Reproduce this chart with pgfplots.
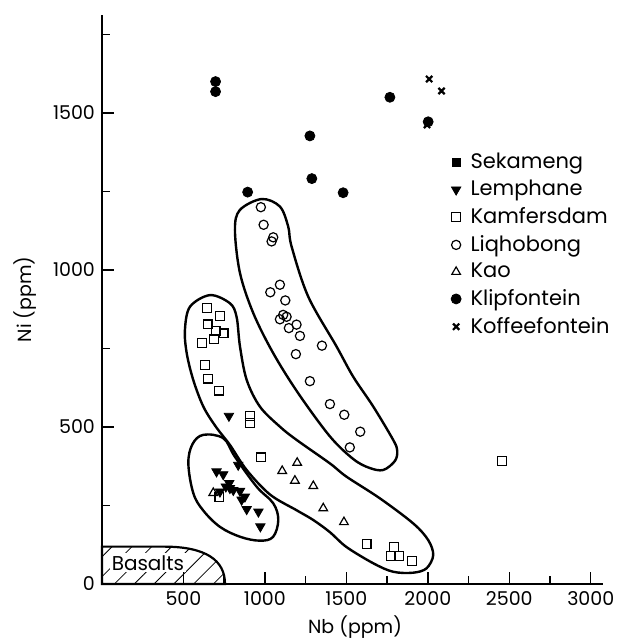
\documentclass[border=0pt]{standalone}
\usepackage{pgfplots}
\pgfplotsset{compat=1.18}
\usepackage{fontspec}
\setmainfont{Poppins}
\usetikzlibrary{patterns.meta}

\begin{document}
\begin{tikzpicture}[x=1pt,y=1pt]
\useasboundingbox (-51,-27.5) rectangle (259,292);
\begin{axis}[
  at={(0,0)}, anchor=south west,
  scale only axis, width=250.5pt, height=284.5pt,
  xmin=0, xmax=3075, ymin=0, ymax=1812,
  axis x line=bottom, axis y line=left,
  axis line style={-, line width=0.8pt},
  tick align=inside,
  xtick={500,1000,...,3000}, minor xtick={750,1250,...,2750},
  ytick={0,500,1000,1500}, minor ytick={250,750,1250,1750},
  major tick length=6pt, minor tick length=4pt,
  tick style={line width=0.7pt, black},
  /pgf/number format/assume math mode=true,
  /pgf/number format/1000 sep={},
  ticklabel style={font=\fontsize{9.5}{11}\selectfont},
  xlabel={Nb (ppm)}, ylabel={Ni (ppm)},
  label style={font=\fontsize{9.5}{11}\selectfont},
  xlabel style={at={(axis description cs:0.505,-0.076)}, anchor=center},
  ylabel style={at={(axis description cs:-0.154,0.5)}, anchor=center},
  legend style={at={(axis cs:2138,1386)}, anchor=north west, draw=none, fill=none,
    font=\fontsize{10.5}{12}\selectfont, row sep=0.35pt, inner sep=0pt},
  legend cell align=left,
  legend image code/.code={\path (0pt,0pt) (7.5pt,0pt); \draw[mark repeat=2,mark phase=2] plot coordinates {(0pt,0pt) (2.5pt,0pt) (5pt,0pt)};},
  clip=false,
]
% envelopes
\draw[line width=1.2pt] plot[smooth cycle, tension=0.55] coordinates {
 (axis cs:980,1226) (axis cs:1092,1202) (axis cs:1143,1138) (axis cs:1164,1074)
 (axis cs:1266,915) (axis cs:1440,756) (axis cs:1542,660) (axis cs:1665,565)
 (axis cs:1787,459) (axis cs:1812,425) (axis cs:1798,392) (axis cs:1726,363)
 (axis cs:1640,370) (axis cs:1542,398) (axis cs:1399,470) (axis cs:1205,607)
 (axis cs:1051,735) (axis cs:929,862) (axis cs:847,990) (axis cs:816,1127)
 (axis cs:846,1191)};
\draw[line width=1.2pt] plot[smooth cycle, tension=0.55] coordinates {
 (axis cs:663,920) (axis cs:785,894) (axis cs:826,851) (axis cs:847,756)
 (axis cs:888,650) (axis cs:969,565) (axis cs:1092,501) (axis cs:1194,459)
 (axis cs:1399,384) (axis cs:1500,342) (axis cs:1705,273) (axis cs:1910,193)
 (axis cs:2002,140) (axis cs:2033,92) (axis cs:1992,50) (axis cs:1910,36)
 (axis cs:1787,39) (axis cs:1665,66) (axis cs:1500,118) (axis cs:1399,165)
 (axis cs:1296,204) (axis cs:1194,235) (axis cs:1031,285) (axis cs:888,363)
 (axis cs:785,443) (axis cs:700,500) (axis cs:622,565) (axis cs:560,650)
 (axis cs:520,735) (axis cs:509,809) (axis cs:540,883)};
\draw[line width=1.2pt] plot[smooth cycle, tension=0.6] coordinates {
 (axis cs:622,475) (axis cs:745,464) (axis cs:816,405) (axis cs:949,310)
 (axis cs:1051,257) (axis cs:1082,204) (axis cs:1050,150) (axis cs:969,138)
 (axis cs:850,150) (axis cs:724,182) (axis cs:620,235) (axis cs:560,290)
 (axis cs:530,384) (axis cs:555,445)};
% basalts
\draw[line width=1.1pt, pattern={Lines[angle=45, distance=7pt, line width=0.4pt]}]
 (axis cs:0,0) -- (axis cs:0,119) -- (axis cs:380,119)
 .. controls (axis cs:640,119) and (axis cs:755,75) .. (axis cs:755,0) -- cycle;
\node[fill=white, inner sep=1pt, font=\fontsize{10}{12}\selectfont] at (axis cs:282,67) {Basalts};

\addlegendimage{only marks, mark=square*, mark size=2pt, black}
\addlegendentry{Sekameng}
\addplot[only marks, mark=triangle*, mark size=2.7pt, black, mark options={rotate=180}] coordinates {
 (779,535) (836,379) (703,358) (744,349) (781,321) (785,305) (806,299) (724,294)
 (847,296) (877,278) (857,268) (888,238) (960,230) (972,183) (760,310)};
\addlegendentry{Lemphane}
\addplot[only marks, mark=square, mark size=2.2pt, black, mark options={line width=0.6pt}] coordinates {
 (646,878) (724,853) (648,827) (697,806) (746,798) (689,779) (613,768) (634,698)
 (650,654) (718,616) (910,535) (910,512) (975,403) (1624,127) (1791,117) (1773,90)
 (1822,90) (1902,74) (2454,392) (720,278)};
\addlegendentry{Kamfersdam}
\addplot[only marks, mark=o, mark size=2.3pt, black, mark options={line width=0.6pt}] coordinates {
 (975,1200) (992,1144) (1051,1104) (1041,1091) (1092,953) (1033,929) (1125,903)
 (1112,857) (1092,843) (1133,851) (1147,815) (1194,826) (1215,790) (1190,732)
 (1350,759) (1276,646) (1399,573) (1487,539) (1585,485) (1521,435)};
\addlegendentry{Liqhobong}
\addplot[only marks, mark=triangle, mark size=2.5pt, black, mark options={line width=0.6pt}] coordinates {
 (1198,386) (1106,360) (1184,329) (1297,312) (1358,241) (1485,197) (683,290)};
\addlegendentry{Kao}
\addplot[only marks, mark=*, mark size=2.5pt, black] coordinates {
 (697,1600) (697,1568) (1767,1550) (2002,1472) (1276,1427) (1288,1291) (1480,1246) (894,1248)};
\addlegendentry{Klipfontein}
\addplot[only marks, mark=x, mark size=2.2pt, black, mark options={line width=1.1pt}] coordinates {
 (2008,1608) (2084,1570) (1995,1462)};
\addlegendentry{Koffeefontein}
\end{axis}
\end{tikzpicture}
\end{document}
